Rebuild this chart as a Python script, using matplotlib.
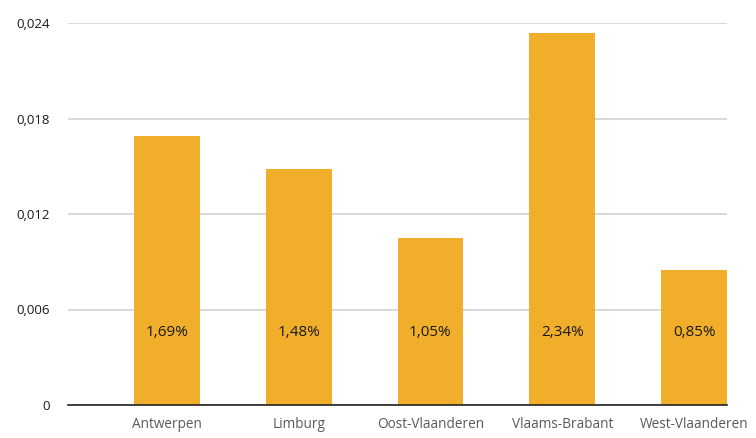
import numpy as np
from matplotlib import pyplot as plt

provinces = ['Antwerpen', 'Limburg', 'Oost-Vlaanderen', 'Vlaams-Brabant', 'West-Vlaanderen']
shares = [0.0169, 0.0148, 0.0105, 0.0234, 0.0085]
share_labels = ['1,69%', '1,48%', '1,05%', '2,34%', '0,85%']
yticks = [0, 0.006, 0.012, 0.018, 0.024]
ytick_labels = ['0', '0,006', '0,012', '0,018', '0,024']

plt.rcParams['font.family'] = ['Open Sans', 'DejaVu Sans']

fig = plt.figure(figsize=(7.56, 4.38), dpi=100)
ax = fig.add_axes([68 / 756, 33 / 438, 659 / 756, 382 / 438])

x = np.arange(len(provinces))
ax.bar(x, shares, width=0.5, color='#F0AE2A', zorder=2)
for xi, lab in zip(x, share_labels):
    ax.text(xi, 0.00455, lab, ha='center', va='center', fontsize=11, color='#1a1a1a', zorder=3)

ax.set_xlim(-0.75, 4.25)
ax.set_ylim(0, 0.024)
ax.set_yticks(yticks)
ax.set_yticklabels(ytick_labels)
ax.set_xticks(x)
ax.set_xticklabels(provinces)

ax.grid(axis='y', color='#d6d6d6', lw=1.3, zorder=0)
for s in ['top', 'right', 'left']:
    ax.spines[s].set_visible(False)
ax.spines['bottom'].set_color('#222222')
ax.spines['bottom'].set_linewidth(1.2)
ax.spines['bottom'].set_zorder(4)

ax.tick_params(axis='y', length=0, pad=13, labelsize=9.5, labelcolor='#1a1a1a')
ax.tick_params(axis='x', length=0, pad=9, labelsize=9.8, labelcolor='#595959')

fig.savefig('out.png', dpi=100)
